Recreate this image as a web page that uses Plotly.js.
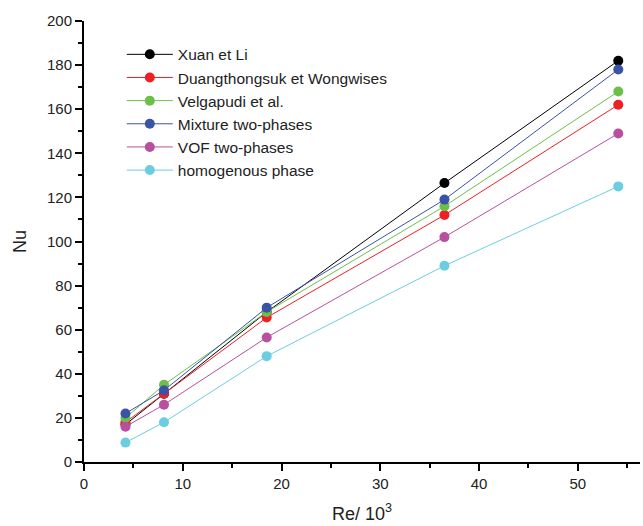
<!DOCTYPE html>
<html>
<head>
<meta charset="utf-8">
<script src="https://cdn.plot.ly/plotly-3.0.1.min.js"></script>
<style>html,body{margin:0;padding:0;background:#fff;}#chart{width:643px;height:526px;}</style>
</head>
<body>
<div id="chart"></div>
<script>
const reValues = [4.2, 8.1, 18.5, 36.5, 54.1];
const seriesNames = ["Xuan et Li", "Duangthongsuk et Wongwises", "Velgapudi et al.", "Mixture two-phases", "VOF two-phases", "homogenous phase"];
const xuanLi = [17, 31, 68, 126.5, 182];
const duangthongsuk = [18, 31, 65.5, 112, 162];
const velgapudi = [20, 35, 68, 116, 168];
const mixture = [22, 32.5, 70, 119, 178];
const vof = [16, 26, 56.5, 102, 149];
const homogenous = [8.8, 18, 48, 89, 125];
const seriesColors = ["#000000", "#ee1f25", "#6cc04a", "#3a53a4", "#b8509f", "#6ccde0"];

const allSeries = [xuanLi, duangthongsuk, velgapudi, mixture, vof, homogenous];
const traces = allSeries.map((ys, i) => ({
  x: reValues, y: ys, name: seriesNames[i], type: 'scatter', mode: 'lines+markers',
  line: {color: seriesColors[i], width: 1},
  marker: {color: seriesColors[i], size: 10, symbol: 'circle'}
}));

const layout = {
  width: 643, height: 526,
  margin: {l: 84, r: 3, t: 21, b: 64},
  paper_bgcolor: '#fff', plot_bgcolor: '#fff',
  font: {family: 'Liberation Sans, Arial, sans-serif', color: '#222', size: 15},
  showlegend: true,
  legend: {x: 0.068, y: 0.962, xanchor: 'left', yanchor: 'top', bgcolor: 'rgba(0,0,0,0)',
           font: {size: 15.5, color: '#222'}, itemwidth: 46, tracegroupgap: 0},
  xaxis: {
    range: [0, 56.3], tickvals: [0,10,20,30,40,50], ticks: 'outside', ticklen: 7, tickwidth: 2,
    showline: true, linecolor: '#000', linewidth: 2, showgrid: false, zeroline: false,
    minor: {tickvals: [5,15,25,35,45,55], ticks: 'outside', ticklen: 4, tickwidth: 2, tickcolor: '#000', showgrid: false},
    tickcolor: '#000', tickfont: {size: 15},
    title: {text: 'Re/ 10<sup>3</sup>', font: {size: 18}, standoff: 16}
  },
  yaxis: {
    range: [0, 200], tickvals: [0,20,40,60,80,100,120,140,160,180,200], ticks: 'outside', ticklen: 7, tickwidth: 2,
    showline: true, linecolor: '#000', linewidth: 2, showgrid: false, zeroline: false,
    minor: {dtick: 10, ticks: 'outside', ticklen: 4, tickwidth: 2, tickcolor: '#000', showgrid: false},
    tickcolor: '#000', tickfont: {size: 15},
    title: {text: 'Nu', font: {size: 18}, standoff: 16}
  }
};
Plotly.newPlot('chart', traces, layout, {displayModeBar: false, staticPlot: true});
</script>
</body>
</html>
